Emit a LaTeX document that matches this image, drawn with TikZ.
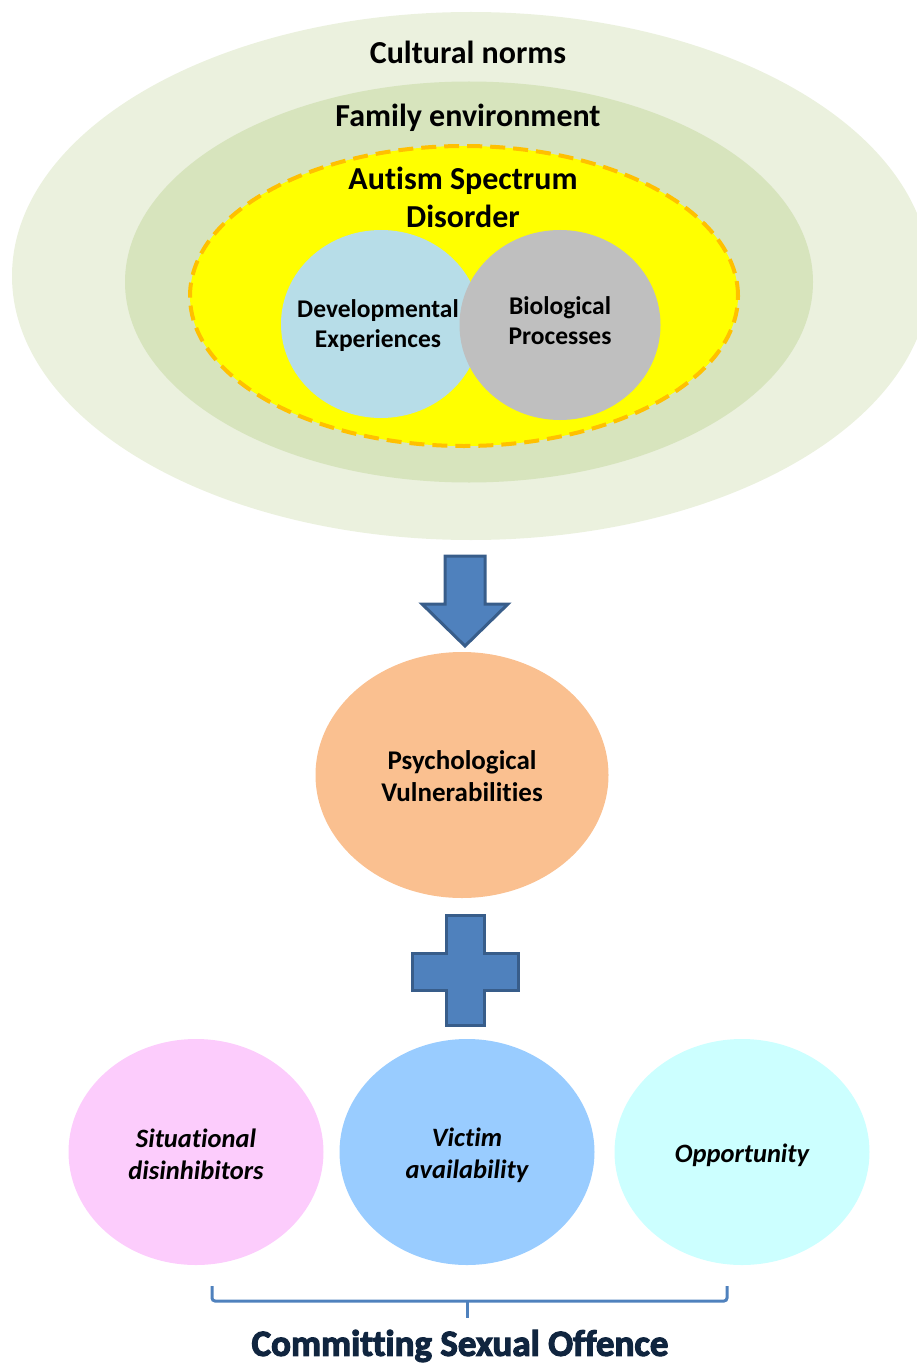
\documentclass[tikz,border=0pt]{standalone}
\usepackage{fontspec}
\setmainfont{Carlito}[Ligatures=NoCommon]
\newfontfamily\heavyfont{Carlito}[Ligatures=NoCommon,BoldFeatures={FakeBold=3}]
\usetikzlibrary{shapes.geometric}
\definecolor{culture}{RGB}{235,241,222}
\definecolor{family}{RGB}{215,228,189}
\definecolor{asdyellow}{RGB}{255,255,0}
\definecolor{asdedge}{RGB}{255,192,0}
\definecolor{devblue}{RGB}{183,221,232}
\definecolor{biogray}{RGB}{191,191,191}
\definecolor{psyorange}{RGB}{250,192,144}
\definecolor{sitpink}{RGB}{252,204,252}
\definecolor{vicblue}{RGB}{153,204,255}
\definecolor{oppcyan}{RGB}{204,255,255}
\definecolor{markblue}{RGB}{79,129,189}
\definecolor{markedge}{RGB}{56,93,138}
\definecolor{navy}{RGB}{16,37,63}

\begin{document}
\begin{tikzpicture}[x=1pt, y=-1pt,
  every node/.style={font=\bfseries\fontsize{25.5}{30}\selectfont, align=center},
  zone/.style={ellipse, inner sep=0pt},
  big/.style={font=\bfseries\fontsize{32}{38}\selectfont},
  factor/.style={font=\bfseries\itshape\fontsize{26.5}{32}\selectfont},
  markshape/.style={fill=markblue, draw=markedge, line width=3pt, line join=miter}]
\useasboundingbox (0,0) rectangle (917,1364);
\clip (0,0) rectangle (917,1364);
% nested contexts
\node[zone,fill=culture,minimum width=918pt,minimum height=528pt] (cult) at (471,276) {};
\node[zone,fill=family,minimum width=688pt,minimum height=401pt] (fam) at (469,282) {};
\node[zone,fill=asdyellow,draw=asdedge,line width=4pt,dash pattern=on 15pt off 8pt,minimum width=548pt,minimum height=300pt] (asd) at (464,296) {};
\node[zone,fill=devblue,minimum width=200pt,minimum height=188pt] (dev) at (381,324) {};
\node[zone,fill=biogray,minimum width=201pt,minimum height=190pt] (bio) at (560,325) {};
\node[big] (tcult) at (468,52) {Cultural norms};
\node[big] (tfam) at (468,118) {Family environment};
\node[big] (tasd) at (463,197) {Autism Spectrum\\Disorder};
\node (tdev) at (378,326) {Developmental\\Experiences};
\node (tbio) at (560,321) {Biological\\Processes};
% arrow down
\draw[markshape] (445,556) -- (485,556) -- (485,604) -- (508,604) -- (465,646) -- (422,604) -- (445,604) -- cycle;
\node[zone,fill=psyorange,minimum width=293pt,minimum height=246pt] (psy) at (462,775) {};
\node[font=\bfseries\fontsize{27}{32}\selectfont] (tpsy) at (462,776) {Psychological\\Vulnerabilities};
% plus
\draw[markshape] (446,915) -- (484,915) -- (484,953) -- (518,953) -- (518,990) -- (484,990) -- (484,1025) -- (446,1025) -- (446,990) -- (412,990) -- (412,953) -- (446,953) -- cycle;
% situational factors
\node[zone,fill=sitpink,minimum width=255pt,minimum height=226pt] (sit) at (196,1152) {};
\node[zone,fill=vicblue,minimum width=255pt,minimum height=226pt] (vic) at (467,1152) {};
\node[zone,fill=oppcyan,minimum width=255pt,minimum height=226pt] (opp) at (742,1152) {};
\node[factor] (tsit) at (196,1154) {Situational\\disinhibitors};
\node[factor] (tvic) at (467,1155) {Victim\\availability};
\node[factor] (topp) at (742,1155) {Opportunity};
% bracket
\draw[markblue, line width=3pt, rounded corners=3pt] (212,1286) -- (212,1301) -- (727,1301) -- (727,1286);
\draw[markblue, line width=3pt] (467,1301) -- (467,1318);
\node[font=\heavyfont\bfseries\fontsize{37}{42}\selectfont, text=navy] (offence) at (460,1346) {Committing Sexual Offence};
\end{tikzpicture}
\end{document}
